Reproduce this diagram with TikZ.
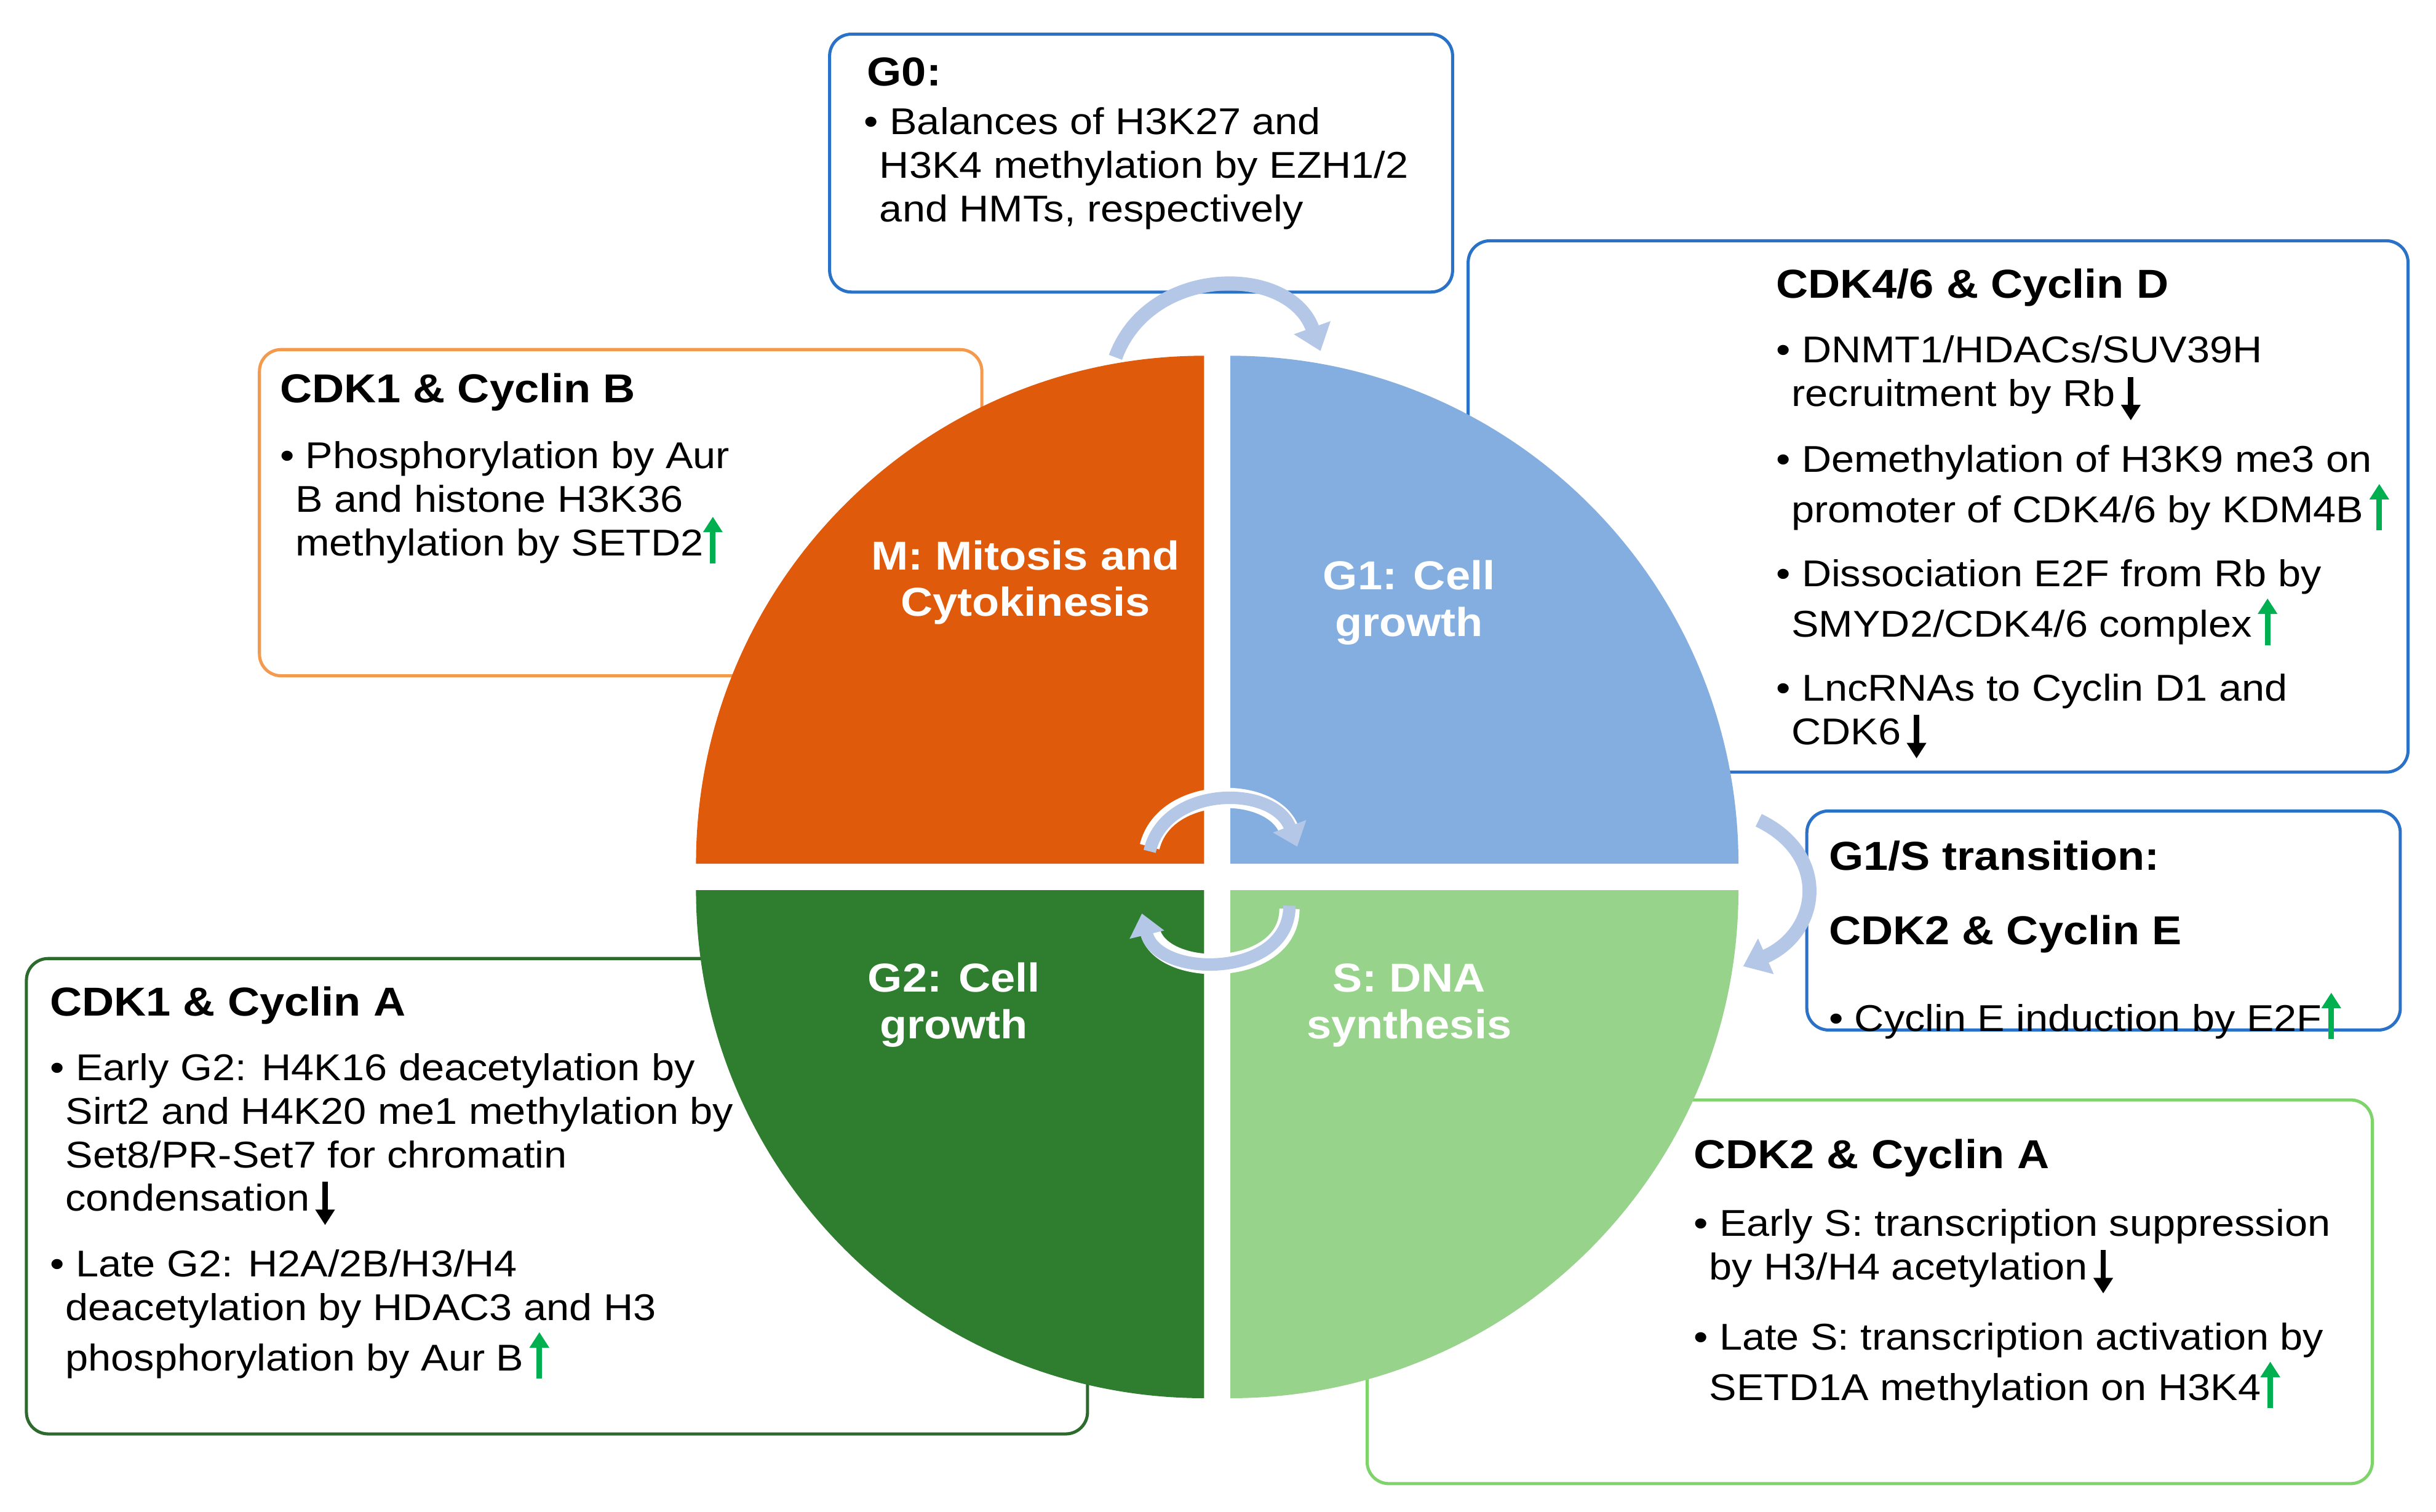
\documentclass[tikz,border=0pt]{standalone}
\usepackage{fontspec}
\setmainfont{Liberation Sans}[FakeStretch=1.1]
\usetikzlibrary{arrows.meta}
\definecolor{qor}{HTML}{E05A0C}
\definecolor{qbl}{HTML}{84AEE0}
\definecolor{qdg}{HTML}{2F7D2F}
\definecolor{qlg}{HTML}{97D38B}
\definecolor{bblue}{HTML}{2A72C8}
\definecolor{bor}{HTML}{F39A4E}
\definecolor{bdg}{HTML}{2D6A2D}
\definecolor{blg}{HTML}{7FD36B}
\definecolor{arr}{HTML}{B4C7E7}
\definecolor{upg}{HTML}{00B050}
\newcommand{\upar}{\tikz[baseline=0pt]\draw[-{Triangle[length=10pt,width=12pt]},line width=3.5pt,upg](0,-5pt)--(0,25pt);}
\newcommand{\dnar}{\tikz[baseline=0pt]\draw[-{Triangle[length=10pt,width=12pt]},line width=3.5pt,black](0,19pt)--(0,-9pt);}
\newcommand{\ind}{\hspace*{10pt}}
\begin{document}
\begin{tikzpicture}[x=1pt,y=-1pt,
  box/.style={rounded corners=14pt,line width=2pt,fill=white},
  txt/.style={anchor=north west,align=left,inner sep=0pt,font=\fontsize{24}{28}\selectfont},
  ttl/.style={anchor=north west,inner sep=0pt,font=\bfseries\fontsize{26}{28}\selectfont},
  ql/.style={text=white,align=center,font=\bfseries\fontsize{26}{30}\selectfont},
  carr/.style={arr,line width=9pt,-{Triangle[length=16pt,width=24pt]}}]
\useasboundingbox (0,0) rectangle (1568,973);
% boxes
\draw[box,draw=bblue] (534,22) rectangle (935,188);
\draw[box,draw=bor] (167,225) rectangle (632,435);
\draw[box,draw=bblue] (945,155) rectangle (1550,497);
\draw[box,draw=bblue] (1163,522) rectangle (1545,663);
\draw[box,draw=bdg] (17,617) rectangle (700,923);
\draw[box,draw=blg] (880,708) rectangle (1527,955);
% quadrants
\fill[qor] (775,556) -- (448,556) arc[start angle=180,end angle=270,radius=327] -- cycle;
\fill[qbl] (792,556) -- (792,229) arc[start angle=270,end angle=360,radius=327] -- cycle;
\fill[qdg] (775,573) -- (448,573) arc[start angle=180,end angle=90,radius=327] -- cycle;
\fill[qlg] (792,573) -- (1119,573) arc[start angle=0,end angle=90,radius=327] -- cycle;
\node[ql] (qm) at (660,375) {M: Mitosis and\\Cytokinesis};
\node[ql] (qg1) at (907,388) {G1: Cell\\growth};
\node[ql] (qg2) at (614,647) {G2: Cell\\growth};
\node[ql] (qs) at (907,647) {S: DNA\\synthesis};
% arrows
\draw[carr] (718,230) .. controls (740,170) and (830,170) .. (850,226);
\draw[carr] (1132,528) .. controls (1178,550) and (1172,600) .. (1122,622);
\draw[white,line width=13pt] (740,545) .. controls (750,505) and (820,505) .. (830,535);
\draw[white,line width=13pt] (830,585) .. controls (830,630) and (745,630) .. (740,598);
\draw[carr,line width=8pt,-{Triangle[length=14pt,width=22pt]}] (740,548) .. controls (750,505) and (820,505) .. (835,545);
\draw[carr,line width=8pt,-{Triangle[length=14pt,width=22pt]}] (830,583) .. controls (830,630) and (745,630) .. (735,588);
% texts
\node[ttl] (t0) at (558,37) {G0:};
\node[txt] (b0) at (556,69) {\fontsize{24}{31.5}\selectfont\textbullet\ Balances of H3K27 and\\\ind H3K4 methylation by EZH1/2\\\ind and HMTs, respectively};
\node[ttl] (tb) at (180,240) {CDK1 \& Cyclin B};
\node[txt] (bb) at (180,284) {\fontsize{24}{27.5}\selectfont\textbullet\ Phosphorylation by Aur\\\ind B and histone H3K36\\\ind methylation by SETD2\upar};
\node[ttl] (td) at (1143,173) {CDK4/6 \& Cyclin D};
\node[txt] (bd) at (1143,216) {\textbullet\ DNMT1/HDACs/SUV39H\\\ind recruitment by Rb\,\dnar\\[13pt]
\textbullet\ Demethylation of H3K9 me3 on\\\ind promoter of CDK4/6 by KDM4B\,\upar\\[13pt]
\textbullet\ Dissociation E2F from Rb by\\\ind SMYD2/CDK4/6 complex\,\upar\\[13pt]
\textbullet\ LncRNAs to Cyclin D1 and\\\ind CDK6\,\dnar};
\node[ttl] (te1) at (1177,541) {G1/S transition:};
\node[ttl] (te2) at (1177,589) {CDK2 \& Cyclin E};
\node[txt] (be) at (1177,637) {\textbullet\ Cyclin E induction by E2F\upar};
\node[ttl] (ta) at (32,635) {CDK1 \& Cyclin A};
\node[txt] (ba) at (32,678) {\fontsize{24}{27.3}\selectfont\textbullet\ Early G2: H4K16 deacetylation by\\\ind Sirt2 and H4K20 me1 methylation by\\\ind Set8/PR-Set7 for chromatin\\\ind condensation\,\dnar\\[13pt]
\textbullet\ Late G2: H2A/2B/H3/H4\\\ind deacetylation by HDAC3 and H3\\\ind phosphorylation by Aur B\,\upar};
\node[ttl] (tsa) at (1090,733) {CDK2 \& Cyclin A};
\node[txt] (bsa) at (1090,778) {\fontsize{24}{30}\selectfont\textbullet\ Early S: transcription suppression\\\ind by H3/H4 acetylation\,\dnar\\[16pt]
\textbullet\ Late S: transcription activation by\\\ind SETD1A methylation on H3K4\upar};
\end{tikzpicture}
\end{document}
